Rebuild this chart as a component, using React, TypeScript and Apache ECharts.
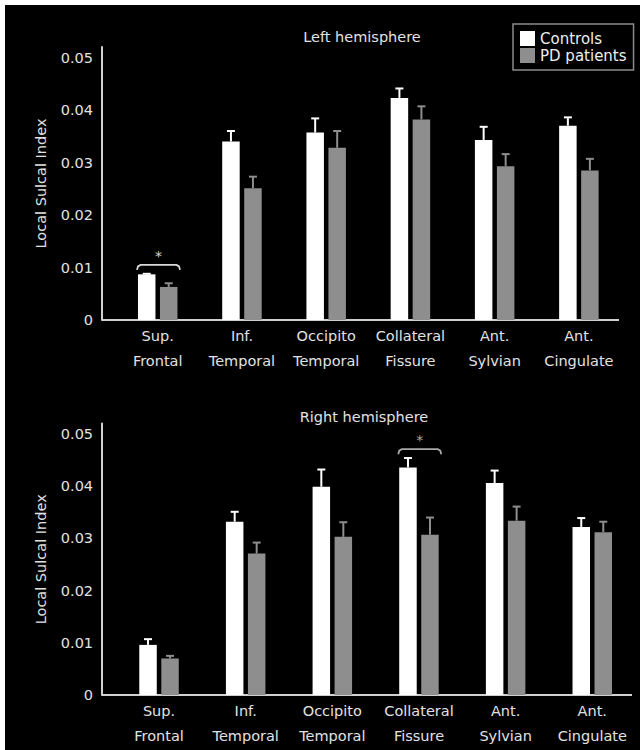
import React, { useEffect, useRef } from "react";
import * as echarts from "echarts";

const categories = [
  "Sup.\nFrontal",
  "Inf.\nTemporal",
  "Occipito\nTemporal",
  "Collateral\nFissure",
  "Ant.\nSylvian",
  "Ant.\nCingulate",
];
const yTicks = [0, 0.01, 0.02, 0.03, 0.04, 0.05];

const leftControls = [0.0087, 0.034, 0.0357, 0.0423, 0.0343, 0.037];
const leftControlsErr = [0.0001, 0.002, 0.0027, 0.0018, 0.0025, 0.0016];
const leftPD = [0.0063, 0.0251, 0.0328, 0.0382, 0.0293, 0.0285];
const leftPDErr = [0.0007, 0.0022, 0.0032, 0.0025, 0.0023, 0.0022];

const rightControls = [0.0096, 0.0332, 0.0399, 0.0436, 0.0406, 0.0322];
const rightControlsErr = [0.0011, 0.0019, 0.0033, 0.0018, 0.0024, 0.0017];
const rightPD = [0.007, 0.0271, 0.0303, 0.0307, 0.0334, 0.0312];
const rightPDErr = [0.0005, 0.0021, 0.0028, 0.0033, 0.0027, 0.002];

// significance brackets: [category index, height]
const leftSig = [[0, 0.0105]];
const rightSig = [[3, 0.0471]];

const FONT = "DejaVu Sans";
const TEXT = "#e2e2e2";
const WHITE = "#ffffff";
const GRAY = "#8e8e8e";
const AXIS = "#d0d0d0";
const BAR_W = 17.5;
const BAR_GAP = 4.5;
const OFF = (BAR_W + BAR_GAP) / 2;

const W = 635;
const H = 745;

const grids = [
  { left: 110.6, right: 19, top: 42, height: 273 },
  { left: 110.7, right: 4.4, top: 418.6, height: 271.4 },
];

function errSeries(name, gi, means, errs, color, offset) {
  return {
    type: "custom",
    name,
    xAxisIndex: gi,
    yAxisIndex: gi,
    z: 5,
    data: means.map((m, i) => [i, m, errs[i]]),
    encode: { x: 0, y: 1 },
    renderItem: (params, api) => {
      const i = api.value(0);
      const m = api.value(1);
      const e = api.value(2);
      const p0 = api.coord([i, m]);
      const p1 = api.coord([i, m + e]);
      const x = p0[0] + offset;
      return {
        type: "group",
        children: [
          {
            type: "line",
            shape: { x1: x, y1: p0[1], x2: x, y2: p1[1] },
            style: { stroke: color, lineWidth: 2 },
          },
          {
            type: "line",
            shape: { x1: x - 4, y1: p1[1], x2: x + 4, y2: p1[1] },
            style: { stroke: color, lineWidth: 2 },
          },
        ],
      };
    },
  };
}

function sigSeries(name, gi, sig, color) {
  return {
    type: "custom",
    name,
    xAxisIndex: gi,
    yAxisIndex: gi,
    z: 6,
    data: sig,
    encode: { x: 0, y: 1 },
    renderItem: (params, api) => {
      const c = api.coord([api.value(0), api.value(1)]);
      const hw = 21.5;
      const x = c[0] + 0.8;
      const y = c[1];
      return {
        type: "group",
        children: [
          {
            type: "polyline",
            shape: {
              points: [
                [x - hw, y + 5],
                [x - hw + 1, y + 1.5],
                [x - hw + 3.5, y],
                [x + hw - 3.5, y],
                [x + hw - 1, y + 1.5],
                [x + hw, y + 5],
              ],
            },
            style: { stroke: color, lineWidth: 1.8, fill: null },
          },
          {
            type: "text",
            x: x,
            y: y - 9,
            style: {
              text: "*",
              fill: color,
              font: `14px "${FONT}"`,
              textAlign: "center",
              textVerticalAlign: "middle",
            },
          },
        ],
      };
    },
  };
}

export default function App() {
  const ref = useRef(null);
  useEffect(() => {
    const chart = echarts.init(ref.current, null, { renderer: "svg" });
    const xAxes = grids.map((g, gi) => ({
      type: "category",
      gridIndex: gi,
      data: categories,
      axisLine: { show: false },
      axisTick: { show: false },
      axisLabel: {
        color: TEXT,
        fontFamily: FONT,
        fontSize: 14.5,
        lineHeight: 25,
        margin: 3.5,
        interval: 0,
      },
    }));
    const yAxes = grids.map((g, gi) => ({
      type: "value",
      gridIndex: gi,
      min: 0,
      max: 0.052,
      interval: 0.01,
      offset: 13.6,
      name: "Local Sulcal Index",
      nameLocation: "middle",
      nameGap: 54,
      nameTextStyle: { color: TEXT, fontFamily: FONT, fontSize: 14.5 },
      axisLine: { show: true, lineStyle: { color: AXIS, width: 2 } },
      axisTick: { show: false },
      splitLine: { show: false },
      axisLabel: {
        color: TEXT,
        fontFamily: FONT,
        fontSize: 14.5,
        margin: 9,
        showMaxLabel: false,
        formatter: (v) => {
          const t = yTicks.find((k) => Math.abs(k - v) < 1e-9);
          if (t === undefined) return "";
          return t === 0 ? "0" : t.toFixed(2);
        },
      },
    }));

    const baseX0 = 97;
    const option = {
      animation: false,
      backgroundColor: "#000000",
      grid: grids,
      xAxis: xAxes,
      yAxis: yAxes,
      legend: {
        data: ["Controls", "PD patients"],
        orient: "vertical",
        left: 508,
        top: 19,
        itemWidth: 15,
        itemHeight: 15,
        itemGap: 2,
        padding: [7, 7, 7, 7],
        borderColor: "#8a8a8a",
        borderWidth: 1.5,
        icon: "rect",
        textStyle: { color: "#eeeeee", fontFamily: FONT, fontSize: 15 },
      },
      graphic: [
        {
          type: "line",
          shape: { x1: baseX0, y1: grids[0].top + grids[0].height, x2: 614, y2: grids[0].top + grids[0].height },
          style: { stroke: AXIS, lineWidth: 2 },
        },
        {
          type: "line",
          shape: { x1: baseX0, y1: grids[1].top + grids[1].height, x2: 627, y2: grids[1].top + grids[1].height },
          style: { stroke: AXIS, lineWidth: 2 },
        },
        {
          type: "text",
          x: 357,
          y: 32,
          style: {
            text: "Left hemisphere",
            fill: TEXT,
            font: `14.5px "${FONT}"`,
            textAlign: "center",
            textVerticalAlign: "middle",
          },
        },
        {
          type: "text",
          x: 359,
          y: 412,
          style: {
            text: "Right hemisphere",
            fill: TEXT,
            font: `14.5px "${FONT}"`,
            textAlign: "center",
            textVerticalAlign: "middle",
          },
        },
      ],
      series: [
        {
          type: "bar",
          name: "Controls",
          xAxisIndex: 0,
          yAxisIndex: 0,
          data: leftControls,
          barWidth: BAR_W,
          barGap: (BAR_GAP / BAR_W) * 100 + "%",
          itemStyle: { color: WHITE },
        },
        {
          type: "bar",
          name: "PD patients",
          xAxisIndex: 0,
          yAxisIndex: 0,
          data: leftPD,
          barWidth: BAR_W,
          barGap: (BAR_GAP / BAR_W) * 100 + "%",
          itemStyle: { color: GRAY },
        },
        {
          type: "bar",
          name: "Controls",
          xAxisIndex: 1,
          yAxisIndex: 1,
          data: rightControls,
          barWidth: BAR_W,
          barGap: (BAR_GAP / BAR_W) * 100 + "%",
          itemStyle: { color: WHITE },
        },
        {
          type: "bar",
          name: "PD patients",
          xAxisIndex: 1,
          yAxisIndex: 1,
          data: rightPD,
          barWidth: BAR_W,
          barGap: (BAR_GAP / BAR_W) * 100 + "%",
          itemStyle: { color: GRAY },
        },
        errSeries("errLC", 0, leftControls, leftControlsErr, WHITE, -OFF),
        errSeries("errLP", 0, leftPD, leftPDErr, GRAY, OFF),
        errSeries("errRC", 1, rightControls, rightControlsErr, WHITE, -OFF),
        errSeries("errRP", 1, rightPD, rightPDErr, GRAY, OFF),
        sigSeries("sigL", 0, leftSig, "#d8d8d8"),
        sigSeries("sigR", 1, rightSig, "#a8a8a8"),
      ],
    };
    chart.setOption(option);
    return () => chart.dispose();
  }, []);
  return (
    <div
      ref={ref}
      style={{
        position: "fixed",
        left: 5,
        top: 5,
        width: W,
        height: H,
        background: "#000",
      }}
    />
  );
}
